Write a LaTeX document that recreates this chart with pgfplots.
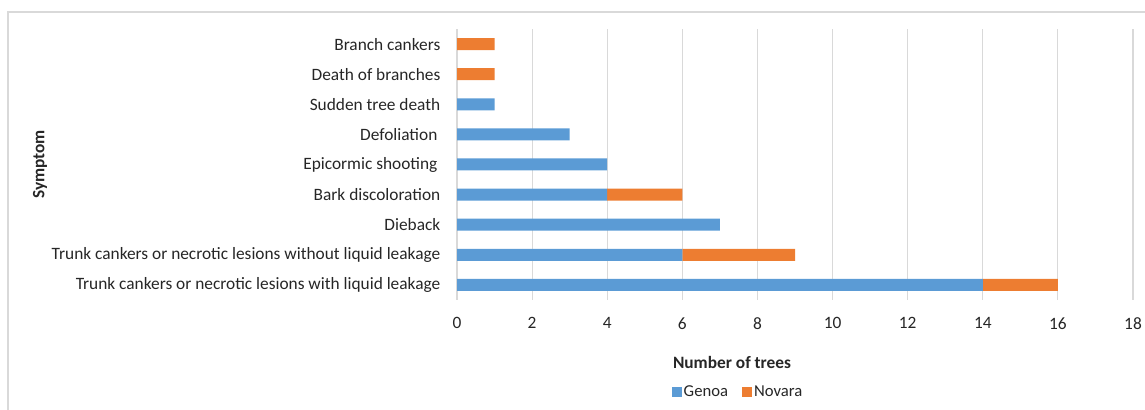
\documentclass[border=0pt]{standalone}
\usepackage{fontspec}
\setmainfont{Carlito}
\usepackage{pgfplots}
\pgfplotsset{compat=1.18}
\definecolor{genoa}{HTML}{5B9BD5}
\definecolor{novara}{HTML}{ED7D31}
\definecolor{gridc}{HTML}{D9D9D9}
\definecolor{txt}{HTML}{262626}
\begin{document}
\fontsize{13pt}{15pt}\selectfont
\begin{tikzpicture}
\path[use as bounding box] (0pt,0pt) rectangle (858.75pt,307.5pt);
\draw[gridc, line width=1.2pt] (6pt,0pt) -- (6pt,298.5pt) -- (858.75pt,298.5pt);
\begin{axis}[
  at={(342.75pt,82.5pt)}, anchor=south west,
  scale only axis, width=507pt, height=203.25pt,
  xbar stacked, bar width=9pt,
  xmin=0, xmax=18, ymin=-0.5, ymax=8.5,
  xtick={0,2,...,18},
  ytick={0,...,8},
  yticklabels={Trunk cankers or necrotic lesions with liquid leakage,
    Trunk cankers or necrotic lesions without liquid leakage,
    Dieback, Bark discoloration, Epicormic shooting\,, Defoliation\,,
    Sudden tree death, Death of branches, Branch cankers},
  xmajorgrids, grid style={gridc, line width=0.75pt},
  major tick length=0pt,
  separate axis lines,
  x axis line style={draw=none},
  y axis line style={draw=gridc, line width=1.5pt},
  axis line style={-},
  tick label style={font=\fontsize{13pt}{15pt}\selectfont, text=txt},
  /pgf/number format/assume math mode=true,
  xticklabel style={yshift=-8.5pt},
  yticklabel style={xshift=-8pt},
  xlabel={\textbf{Number of trees}},
  xlabel style={at={(axis description cs:0.4068,-0.2288)}, anchor=center, text=txt},
  ylabel={\textbf{Symptom}},
  ylabel style={at={(axis description cs:-0.6169,0.5)}, anchor=center, rotate=0, text=txt},
  legend style={at={(axis description cs:0.4157,-0.3395)}, anchor=center, draw=none,
    legend columns=2, font=\fontsize{12.5pt}{15pt}\selectfont, text=txt,
    nodes={inner xsep=1.5pt},
    /tikz/every even column/.append style={column sep=9pt}},
  legend image code/.code={\fill[#1] (0pt,-3.8pt) rectangle (7.5pt,3.8pt);},
]
\addplot[fill=genoa, draw=none] coordinates {(14,0) (6,1) (7,2) (4,3) (4,4) (3,5) (1,6) (0,7) (0,8)};
\addplot[fill=novara, draw=none] coordinates {(2,0) (3,1) (0,2) (2,3) (0,4) (0,5) (0,6) (1,7) (1,8)};
\legend{Genoa, Novara}
\end{axis}
\end{tikzpicture}
\end{document}
